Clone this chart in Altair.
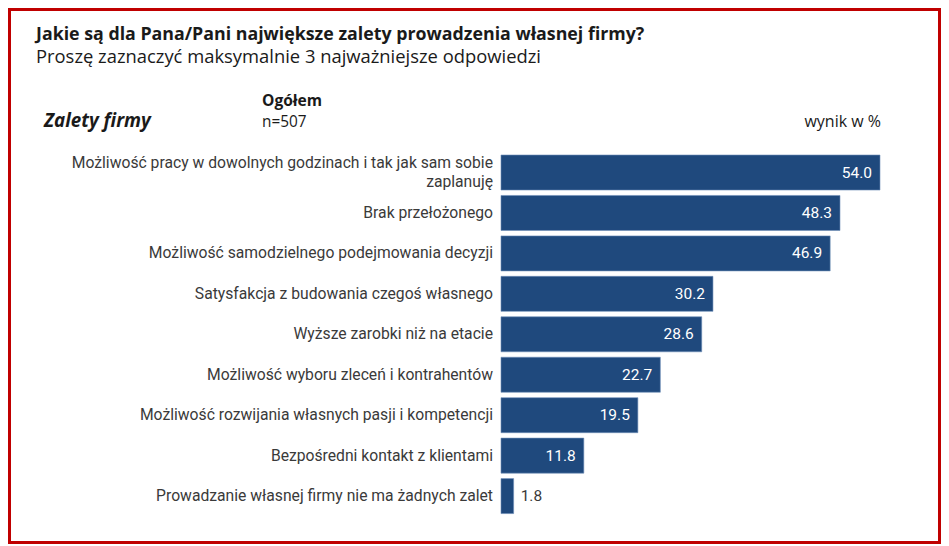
import altair as alt
import pandas as pd

categories = [
    "Możliwość pracy w dowolnych godzinach i tak jak sam sobie\nzaplanuję",
    "Brak przełożonego",
    "Możliwość samodzielnego podejmowania decyzji",
    "Satysfakcja z budowania czegoś własnego",
    "Wyższe zarobki niż na etacie",
    "Możliwość wyboru zleceń i kontrahentów",
    "Możliwość rozwijania własnych pasji i kompetencji",
    "Bezpośredni kontakt z klientami",
    "Prowadzanie własnej firmy nie ma żadnych zalet",
]
values = [54.0, 48.3, 46.9, 30.2, 28.6, 22.7, 19.5, 11.8, 1.8]

title_text = "Jakie są dla Pana/Pani największe zalety prowadzenia własnej firmy?"
subtitle_text = "Proszę zaznaczyć maksymalnie 3 najważniejsze odpowiedzi"
group_text = "Ogółem"
n_text = "n=507"
side_text = "Zalety firmy"
unit_text = "wynik w %"

df = pd.DataFrame({"cat": categories, "val": values})
df["lab"] = df["val"].map(lambda v: f"{v:.1f}")
one = pd.DataFrame({"k": [0]})

W, H = 379, 364
BLUE = "#1F497D"
TXT = "#3a3a3a"
LF = 15.7

y_enc = alt.Y("cat:N", sort=categories, axis=None,
              scale=alt.Scale(paddingInner=0.134, paddingOuter=0.067))
x_enc = alt.X("val:Q", axis=None, scale=alt.Scale(domain=[0, 54], nice=False))

bars = alt.Chart(df).mark_bar(color=BLUE, stroke="#6f8fb8", strokeWidth=0.6).encode(
    x=x_enc, y=y_enc)

cat_single = alt.Chart(df).transform_filter("indexof(datum.cat, '\\n') < 0").mark_text(
    align="right", baseline="middle", font="Roboto", fontSize=LF, color=TXT
).encode(x=alt.value(-8), y=y_enc, text="cat:N")

cat_multi = alt.Chart(df).transform_filter("indexof(datum.cat, '\\n') >= 0").mark_text(
    align="right", baseline="middle", font="Roboto", fontSize=LF, color=TXT,
    lineBreak="\n", lineHeight=18.5, dy=-9.3
).encode(x=alt.value(-8), y=y_enc, text="cat:N")

inside = alt.Chart(df).transform_filter("datum.val >= 5").mark_text(
    align="right", baseline="middle", dx=-8, font="Roboto", fontSize=15.5,
    color="white").encode(x=x_enc, y=y_enc, text="lab:N")

outside = alt.Chart(df).transform_filter("datum.val < 5").mark_text(
    align="left", baseline="middle", dx=7, font="Roboto", fontSize=15.5,
    color=TXT).encode(x=x_enc, y=y_enc, text="lab:N")


def ann(txt, x, y, **kw):
    return alt.Chart(one).mark_text(text=txt, baseline="alphabetic", **kw).encode(
        x=alt.value(x), y=alt.value(y))


title = ann(title_text, -465, -112, align="left", font="Open Sans",
            fontWeight="bold", fontSize=17.8, color="#1a1a1a")
subtitle = ann(subtitle_text, -465, -89, align="left", font="Open Sans",
               fontSize=18.4, color="#1a1a1a")
group = ann(group_text, -239, -46, align="left", font="Open Sans",
            fontWeight="bold", fontSize=15.6, color="#1a1a1a")
nlab = ann(n_text, -239, -25, align="left", font="Open Sans",
           fontSize=15.4, color="#1a1a1a")
side = ann(side_text, -457, -25, align="left", font="Open Sans",
           fontWeight="bold", fontStyle="italic", fontSize=18.8, color="#1a1a1a")
unit = ann(unit_text, W + 1, -25, align="right", font="Open Sans",
           fontSize=16, color="#1a1a1a")

border = alt.Chart(one).mark_rect(fill=None, stroke="#C00000", strokeWidth=3).encode(
    x=alt.value(-491.5), x2=alt.value(438.5), y=alt.value(-142.8), y2=alt.value(390.2))

chart = alt.layer(
    border, bars, cat_single, cat_multi, inside, outside,
    title, subtitle, group, nlab, side, unit
).properties(
    width=W, height=H,
    padding={"left": 493, "top": 144.3, "right": 61, "bottom": 28},
    autosize=alt.AutoSizeParams(type="none"),
).configure(
    background="white", view=alt.ViewConfig(stroke="transparent", strokeWidth=0)
)

chart.save("out.html", embed_options={"renderer": "svg", "actions": False})
